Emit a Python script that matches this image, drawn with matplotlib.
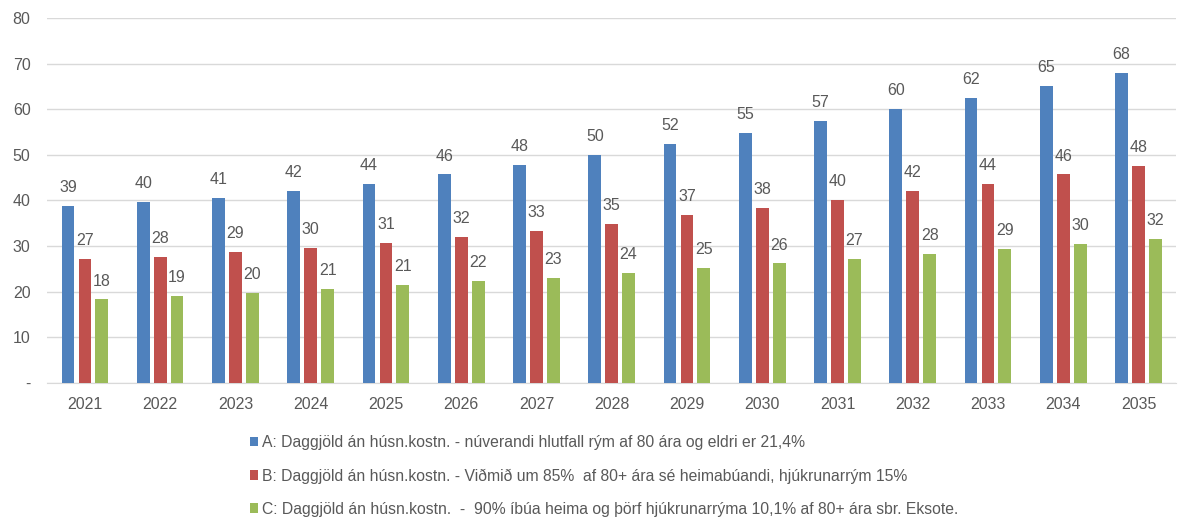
import numpy as np
import matplotlib.pyplot as plt

plt.rcParams['font.family'] = ['Liberation Sans', 'DejaVu Sans']

years = ['2021', '2022', '2023', '2024', '2025', '2026', '2027', '2028',
         '2029', '2030', '2031', '2032', '2033', '2034', '2035']
serie_a = [38.8, 39.6, 40.6, 42.1, 43.7, 45.7, 47.8, 50.0, 52.4, 54.9, 57.4, 60.0, 62.4, 65.2, 67.9]
serie_b = [27.2, 27.6, 28.7, 29.5, 30.6, 32.1, 33.3, 34.9, 36.8, 38.4, 40.2, 42.0, 43.7, 45.7, 47.6]
serie_c = [18.3, 19.1, 19.8, 20.6, 21.4, 22.3, 23.1, 24.1, 25.2, 26.2, 27.2, 28.2, 29.3, 30.4, 31.5]
labels = ['A: Daggjöld án húsn.kostn. - núverandi hlutfall rým af 80 ára og eldri er 21,4%',
          'B: Daggjöld án húsn.kostn. - Viðmið um 85%  af 80+ ára sé heimabúandi, hjúkrunarrým 15%',
          'C: Daggjöld án húsn.kostn.  -  90% íbúa heima og þörf hjúkrunarrýma 10,1% af 80+ ára sbr. Eksote.']
colors = ['#4F81BD', '#C0504D', '#9BBB59']

txt = '#595959'
fig = plt.figure(figsize=(11.82, 5.29), dpi=100)
ax = fig.add_axes([0.04, 0.276, 0.955, 0.69])

x = np.arange(len(years))
w = 0.17
step = 0.225
for i, (vals, col, lab) in enumerate(zip([serie_a, serie_b, serie_c], colors, labels)):
    bars = ax.bar(x + (i - 1) * step, vals, width=w, color=col, label=lab, zorder=3)
    for b, v in zip(bars, vals):
        ax.text(b.get_x() + b.get_width() / 2, v + 2.4, '%.0f' % v,
                ha='center', va='bottom', fontsize=11.5, color=txt)

ax.set_xlim(-0.5, len(years) - 0.5)
ax.set_ylim(0, 80)
ax.set_yticks(range(0, 81, 10))
ax.set_yticklabels(['-'] + [str(v) for v in range(10, 81, 10)])
ax.set_xticks(x)
ax.set_xticklabels(years)
ax.tick_params(axis='both', length=0, labelsize=11.5, colors=txt)
ax.tick_params(axis='x', pad=10)
ax.tick_params(axis='y', pad=12)
ax.grid(axis='y', color='#D9D9D9', linewidth=1, zorder=0)
for s in ['top', 'right', 'left']:
    ax.spines[s].set_visible(False)
ax.spines['bottom'].set_color('#D9D9D9')

fig.legend(loc='upper left', bbox_to_anchor=(0.2045, 0.192), frameon=False,
           fontsize=11.3, labelcolor=txt, handlelength=0.55, handleheight=0.55,
           handletextpad=0.25, labelspacing=1.15, borderpad=0)

plt.savefig('out.png', dpi=100)
